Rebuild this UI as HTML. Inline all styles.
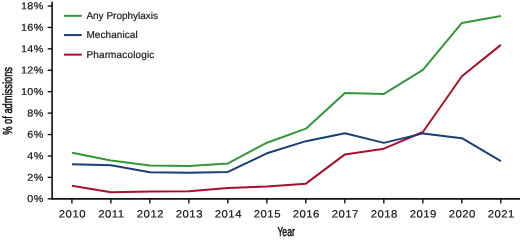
<!DOCTYPE html>
<html><head><meta charset="utf-8"><title>Chart</title>
<style>
html,body{margin:0;padding:0;background:#fff;}
svg{display:block}
text{font-family:"Liberation Sans",sans-serif;fill:#151515;stroke:#151515;stroke-width:0.3px;text-rendering:geometricPrecision}
.t{font-size:10.6px;letter-spacing:0.45px;stroke-width:0.2px}
.ty{font-size:10px;letter-spacing:0.3px;stroke-width:0.22px}
.l{font-size:10px;stroke-width:0.18px}
.c{font-size:13px;stroke-width:0.55px;vector-effect:non-scaling-stroke}
</style></head><body>
<svg width="520" height="240" viewBox="0 0 520 240">
<path d="M52.1 1.8V198.8H520" fill="none" stroke="#151515" stroke-width="1.65"/>
<path d="M47.7 198.80H52.1" stroke="#151515" stroke-width="1.4"/>
<text class="ty" transform="translate(43.6 202.10) rotate(0.03) scale(1.08 1)" text-anchor="end">0%</text>
<path d="M47.7 177.38H52.1" stroke="#151515" stroke-width="1.4"/>
<text class="ty" transform="translate(43.6 180.68) rotate(0.03) scale(1.08 1)" text-anchor="end">2%</text>
<path d="M47.7 155.96H52.1" stroke="#151515" stroke-width="1.4"/>
<text class="ty" transform="translate(43.6 159.26) rotate(0.03) scale(1.08 1)" text-anchor="end">4%</text>
<path d="M47.7 134.54H52.1" stroke="#151515" stroke-width="1.4"/>
<text class="ty" transform="translate(43.6 137.84) rotate(0.03) scale(1.08 1)" text-anchor="end">6%</text>
<path d="M47.7 113.12H52.1" stroke="#151515" stroke-width="1.4"/>
<text class="ty" transform="translate(43.6 116.42) rotate(0.03) scale(1.08 1)" text-anchor="end">8%</text>
<path d="M47.7 91.70H52.1" stroke="#151515" stroke-width="1.4"/>
<text class="ty" transform="translate(43.6 95.00) rotate(0.03) scale(1.08 1)" text-anchor="end">10%</text>
<path d="M47.7 70.28H52.1" stroke="#151515" stroke-width="1.4"/>
<text class="ty" transform="translate(43.6 73.58) rotate(0.03) scale(1.08 1)" text-anchor="end">12%</text>
<path d="M47.7 48.86H52.1" stroke="#151515" stroke-width="1.4"/>
<text class="ty" transform="translate(43.6 52.16) rotate(0.03) scale(1.08 1)" text-anchor="end">14%</text>
<path d="M47.7 27.44H52.1" stroke="#151515" stroke-width="1.4"/>
<text class="ty" transform="translate(43.6 30.74) rotate(0.03) scale(1.08 1)" text-anchor="end">16%</text>
<path d="M47.7 6.02H52.1" stroke="#151515" stroke-width="1.4"/>
<text class="ty" transform="translate(43.6 9.32) rotate(0.03) scale(1.08 1)" text-anchor="end">18%</text>
<path d="M71.90 198.8V203.4" stroke="#151515" stroke-width="1.4"/>
<text class="t" transform="translate(72.40 217.55) rotate(0.03) scale(1.07 1)" text-anchor="middle">2010</text>
<path d="M110.89 198.8V203.4" stroke="#151515" stroke-width="1.4"/>
<text class="t" transform="translate(111.39 217.55) rotate(0.03) scale(1.07 1)" text-anchor="middle">2011</text>
<path d="M149.88 198.8V203.4" stroke="#151515" stroke-width="1.4"/>
<text class="t" transform="translate(150.38 217.55) rotate(0.03) scale(1.07 1)" text-anchor="middle">2012</text>
<path d="M188.87 198.8V203.4" stroke="#151515" stroke-width="1.4"/>
<text class="t" transform="translate(189.37 217.55) rotate(0.03) scale(1.07 1)" text-anchor="middle">2013</text>
<path d="M227.86 198.8V203.4" stroke="#151515" stroke-width="1.4"/>
<text class="t" transform="translate(228.36 217.55) rotate(0.03) scale(1.07 1)" text-anchor="middle">2014</text>
<path d="M266.85 198.8V203.4" stroke="#151515" stroke-width="1.4"/>
<text class="t" transform="translate(267.35 217.55) rotate(0.03) scale(1.07 1)" text-anchor="middle">2015</text>
<path d="M305.84 198.8V203.4" stroke="#151515" stroke-width="1.4"/>
<text class="t" transform="translate(306.34 217.55) rotate(0.03) scale(1.07 1)" text-anchor="middle">2016</text>
<path d="M344.83 198.8V203.4" stroke="#151515" stroke-width="1.4"/>
<text class="t" transform="translate(345.33 217.55) rotate(0.03) scale(1.07 1)" text-anchor="middle">2017</text>
<path d="M383.82 198.8V203.4" stroke="#151515" stroke-width="1.4"/>
<text class="t" transform="translate(384.32 217.55) rotate(0.03) scale(1.07 1)" text-anchor="middle">2018</text>
<path d="M422.81 198.8V203.4" stroke="#151515" stroke-width="1.4"/>
<text class="t" transform="translate(423.31 217.55) rotate(0.03) scale(1.07 1)" text-anchor="middle">2019</text>
<path d="M461.80 198.8V203.4" stroke="#151515" stroke-width="1.4"/>
<text class="t" transform="translate(462.30 217.55) rotate(0.03) scale(1.07 1)" text-anchor="middle">2020</text>
<path d="M500.79 198.8V203.4" stroke="#151515" stroke-width="1.4"/>
<text class="t" transform="translate(501.29 217.55) rotate(0.03) scale(1.07 1)" text-anchor="middle">2021</text>
<polyline points="72.00,152.65 110.99,160.40 149.98,165.40 188.97,165.90 227.96,163.40 266.95,142.70 305.94,128.65 344.93,92.90 383.92,93.90 422.91,69.90 461.90,22.90 500.89,15.90" fill="none" stroke="#35963a" stroke-width="2" stroke-linejoin="round"/>
<polyline points="72.00,185.65 110.99,192.15 149.98,191.40 188.97,191.15 227.96,187.90 266.95,186.50 305.94,183.65 344.93,154.40 383.92,148.65 422.91,132.00 461.90,76.20 500.89,44.90" fill="none" stroke="#a8112e" stroke-width="2" stroke-linejoin="round"/>
<polyline points="72.00,164.15 110.99,165.15 149.98,172.15 188.97,172.65 227.96,171.90 266.95,153.30 305.94,141.15 344.93,133.20 383.92,142.90 422.91,133.40 461.90,138.15 500.89,161.15" fill="none" stroke="#193f76" stroke-width="2" stroke-linejoin="round"/>
<path d="M64 15.85H81.8" stroke="#35963a" stroke-width="2"/>
<text class="l" x="86.4" y="19.2" style="letter-spacing:0px">Any Prophylaxis</text>
<path d="M64 35.05H81.8" stroke="#193f76" stroke-width="2"/>
<text class="l" x="86.4" y="38.45" style="letter-spacing:0.08px">Mechanical</text>
<path d="M64 54.65H81.8" stroke="#a8112e" stroke-width="2"/>
<text class="l" x="86.4" y="58.2" style="letter-spacing:0.15px">Pharmacologic</text>
<text class="c" transform="translate(286.1 236) scale(0.66 1)" text-anchor="middle">Year</text>
<text class="c" transform="translate(11.9 100.9) rotate(-90) scale(0.716 1)" text-anchor="middle">% of admissions</text>
</svg>
</body></html>
